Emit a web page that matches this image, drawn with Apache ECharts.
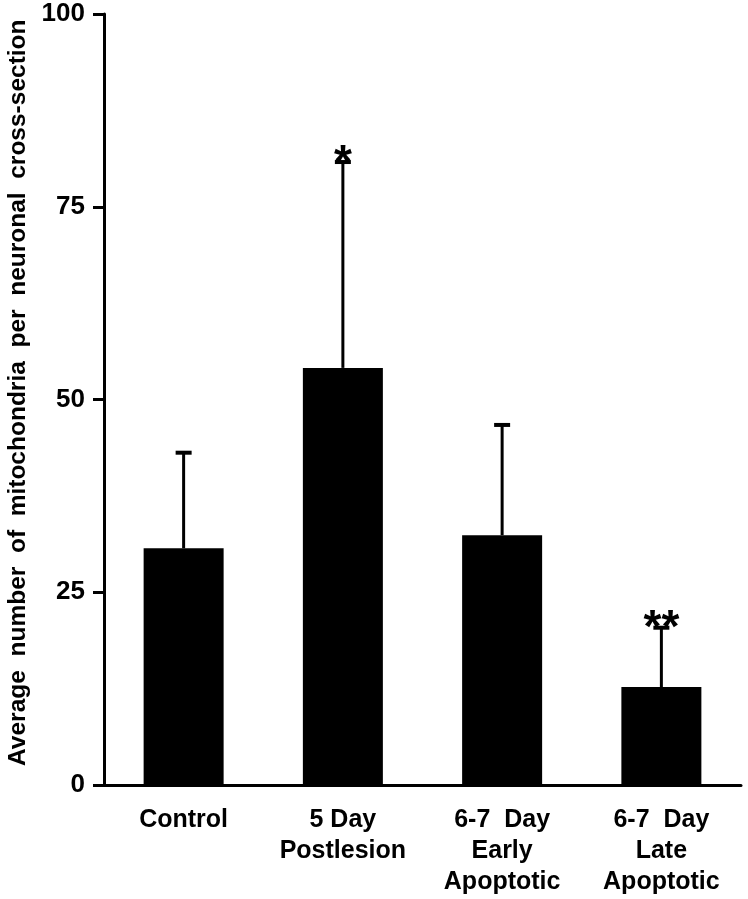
<!DOCTYPE html>
<html>
<head>
<meta charset="utf-8">
<script src="https://cdn.jsdelivr.net/npm/echarts@6/dist/echarts.min.js"></script>
<style>
html,body{margin:0;padding:0;background:#fff;}
#chart{width:748px;height:899px;}
</style>
</head>
<body>
<div id="chart"></div>
<script>
const categories = ['Control', '5 Day\nPostlesion', '6-7  Day\nEarly\nApoptotic', '6-7  Day\nLate\nApoptotic'];
const means = [30.7, 54.1, 32.4, 12.7];
const errorTops = [43.1, 80.8, 46.7, 20.4];
const significance = ['', '*', '', '**'];
const yTicks = [0, 25, 50, 75, 100];

const FONT = "'Liberation Sans', Arial, Helvetica, sans-serif";
const chart = echarts.init(document.getElementById('chart'));

const errData = categories.map((c, i) => [i, means[i], errorTops[i], significance[i]]);

chart.setOption({
  animation: false,
  backgroundColor: '#fff',
  grid: { left: 104, right: 7, top: 14, bottom: 114, containLabel: false, outerBoundsMode: 'none' },
  xAxis: {
    type: 'category',
    data: categories,
    axisLine: { lineStyle: { color: '#000', width: 3 } },
    axisTick: { alignWithLabel: true, length: 10, lineStyle: { color: '#000', width: 3 } },
    axisLabel: {
      color: '#000', fontFamily: FONT, fontWeight: 'bold', fontSize: 25,
      lineHeight: 31, margin: 20, interval: 0
    }
  },
  yAxis: {
    type: 'value',
    min: yTicks[0], max: yTicks[yTicks.length - 1], interval: 25,
    name: '  Average  number  of  mitochondria  per  neuronal  cross-section',
    nameLocation: 'middle',
    nameGap: 72,
    nameTextStyle: { color: '#000', fontFamily: FONT, fontWeight: 'bold', fontSize: 24.5 },
    axisLine: { show: true, lineStyle: { color: '#000', width: 3 } },
    axisTick: { show: true, length: 11, lineStyle: { color: '#000', width: 3 } },
    axisLabel: { color: '#000', fontFamily: FONT, fontWeight: 'bold', fontSize: 26, margin: 19 },
    splitLine: { show: false }
  },
  series: [
    {
      type: 'bar',
      data: means,
      barWidth: 80,
      itemStyle: { color: '#000' }
    },
    {
      type: 'custom',
      data: errData,
      z: 10,
      renderItem: function (params, api) {
        const x = api.value(0);
        const lo = api.coord([x, api.value(1)]);
        const hi = api.coord([x, api.value(2)]);
        const sig = api.value(3);
        const cap = 8;
        const children = [
          { type: 'line', shape: { x1: lo[0], y1: lo[1], x2: hi[0], y2: hi[1] },
            style: { stroke: '#000', lineWidth: 3 } },
          { type: 'line', shape: { x1: hi[0] - cap, y1: hi[1], x2: hi[0] + cap, y2: hi[1] },
            style: { stroke: '#000', lineWidth: 4 } }
        ];
        if (sig) {
          children.push({
            type: 'text',
            style: {
              text: sig, x: hi[0], y: hi[1] + 2,
              textAlign: 'center', textVerticalAlign: 'middle', verticalAlign: 'middle',
              font: 'bold 46px ' + FONT, fill: '#000'
            }
          });
        }
        return { type: 'group', children: children };
      }
    }
  ]
});
</script>
</body>
</html>
